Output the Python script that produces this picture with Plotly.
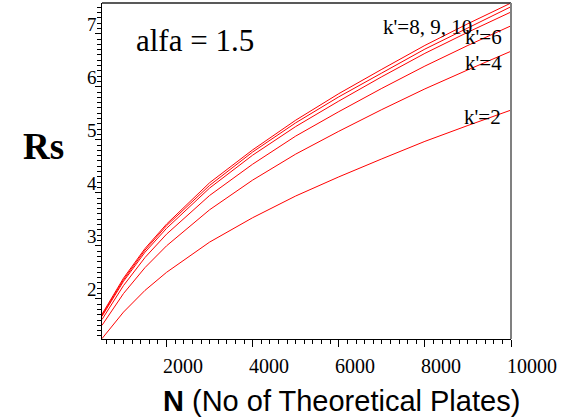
import plotly.graph_objects as go

# ---- data ----
N = [500, 1000, 1500, 2000, 3000, 4000, 5000, 6000, 7000, 8000, 9000, 10000]
rs_k2 = [1.25, 1.75, 2.16, 2.50, 3.07, 3.53, 3.94, 4.30, 4.64, 4.97, 5.27, 5.56]
rs_k4 = [1.50, 2.10, 2.59, 3.00, 3.68, 4.24, 4.73, 5.16, 5.57, 5.96, 6.32, 6.67]
rs_k6 = [1.61, 2.25, 2.78, 3.22, 3.95, 4.54, 5.07, 5.53, 5.97, 6.39, 6.78, 7.15]
rs_k8 = [1.67, 2.33, 2.88, 3.33, 4.09, 4.71, 5.25, 5.73, 6.19, 6.63, 7.03, 7.41]
rs_k9 = [1.69, 2.36, 2.92, 3.38, 4.14, 4.77, 5.32, 5.81, 6.26, 6.71, 7.11, 7.51]
rs_k10 = [1.71, 2.39, 2.95, 3.41, 4.19, 4.81, 5.37, 5.87, 6.33, 6.78, 7.19, 7.58]

x_ticks = [2000, 4000, 6000, 8000, 10000]
x_tick_labels = ["2000", "4000", "6000", "8000", "10000"]
y_ticks = [2, 3, 4, 5, 6, 7]
y_tick_labels = ["2", "3", "4", "5", "6", "7"]

curve_labels = ["k'=8, 9, 10", "k'=6", "k'=4", "k'=2"]

SERIF = "Liberation Serif, Times New Roman, serif"
SANS = "Liberation Sans, Arial, sans-serif"

fig = go.Figure()
for name, ys in [("k'=2", rs_k2), ("k'=4", rs_k4), ("k'=6", rs_k6),
                 ("k'=8", rs_k8), ("k'=9", rs_k9), ("k'=10", rs_k10)]:
    fig.add_trace(go.Scatter(x=N, y=ys, mode="lines", name=name,
                             line=dict(color="#ff0000", width=1), showlegend=False))

# plot area in pixels: x 102..511, y 3..339
L, R, T, B = 102, 511, 3, 339
W, H = R - L, B - T


def fx(p):
    return (p - L) / W


def fy(p):
    return (B - p) / H


annotations = []
# x tick labels (left-aligned at the tick, as in the reference)
for v, t in zip(x_ticks, x_tick_labels):
    annotations.append(dict(x=v, xref="x", y=0, yref="paper", text=t, showarrow=False,
                            xanchor="left", yanchor="middle", xshift=-6, yshift=-27,
                            font=dict(family=SERIF, size=20, color="black")))
# y tick labels (sitting just above the tick)
for v, t in zip(y_ticks, y_tick_labels):
    annotations.append(dict(x=0, xref="paper", y=v, yref="y", text=t, showarrow=False,
                            xanchor="right", yanchor="middle", xshift=-3, yshift=9,
                            font=dict(family=SERIF, size=19, color="black")))

# titles and in-plot texts
annotations += [
    dict(x=fx(341), y=fy(401), xref="paper", yref="paper",
         text="<b>N</b> (No of Theoretical Plates)", showarrow=False,
         xanchor="center", yanchor="middle",
         font=dict(family=SANS, size=29, color="black")),
    dict(x=fx(43), y=fy(146), xref="paper", yref="paper", text="<b>Rs</b>",
         showarrow=False, xanchor="center", yanchor="middle",
         font=dict(family=SERIF, size=37, color="black")),
    dict(x=fx(195), y=fy(40), xref="paper", yref="paper", text="alfa = 1.5",
         showarrow=False, xanchor="center", yanchor="middle",
         font=dict(family=SERIF, size=31, color="black")),
]
for t, (cx, cy) in zip(curve_labels, [(427, 27), (483, 37), (483, 63), (482, 117)]):
    annotations.append(dict(x=fx(cx), y=fy(cy), xref="paper", yref="paper", text=t,
                            showarrow=False, xanchor="center", yanchor="middle",
                            font=dict(family=SERIF, size=21, color="black")))

fig.update_layout(
    width=572, height=417,
    margin=dict(l=L, r=572 - R, t=T, b=417 - B),
    paper_bgcolor="white", plot_bgcolor="white",
    annotations=annotations,
    shapes=[
        dict(type="line", xref="paper", yref="paper", x0=0, x1=1, y0=1, y1=1,
             line=dict(color="#222222", width=1.5)),
        dict(type="line", xref="paper", yref="paper", x0=1, x1=1, y0=0, y1=1,
             line=dict(color="#808080", width=2)),
    ],
)
fig.update_xaxes(range=[500, 10000], showgrid=False, zeroline=False,
                 showline=True, linecolor="black", linewidth=1,
                 tickvals=x_ticks, ticks="outside", ticklen=7, tickcolor="black",
                 showticklabels=False,
                 minor=dict(dtick=200, tick0=0, ticks="outside", ticklen=4,
                            tickcolor="black", showgrid=False))
fig.update_yaxes(range=[1.242, 7.58], showgrid=False, zeroline=False,
                 showline=True, linecolor="black", linewidth=1,
                 tickvals=y_ticks, ticks="outside", ticklen=6, tickcolor="black",
                 showticklabels=False,
                 minor=dict(dtick=0.1, tick0=0, ticks="outside", ticklen=4,
                            tickcolor="black", showgrid=False))

fig.write_html("out.html", config={"displayModeBar": False},
               post_script="document.body.style.margin='0';document.body.style.overflow='hidden';")
